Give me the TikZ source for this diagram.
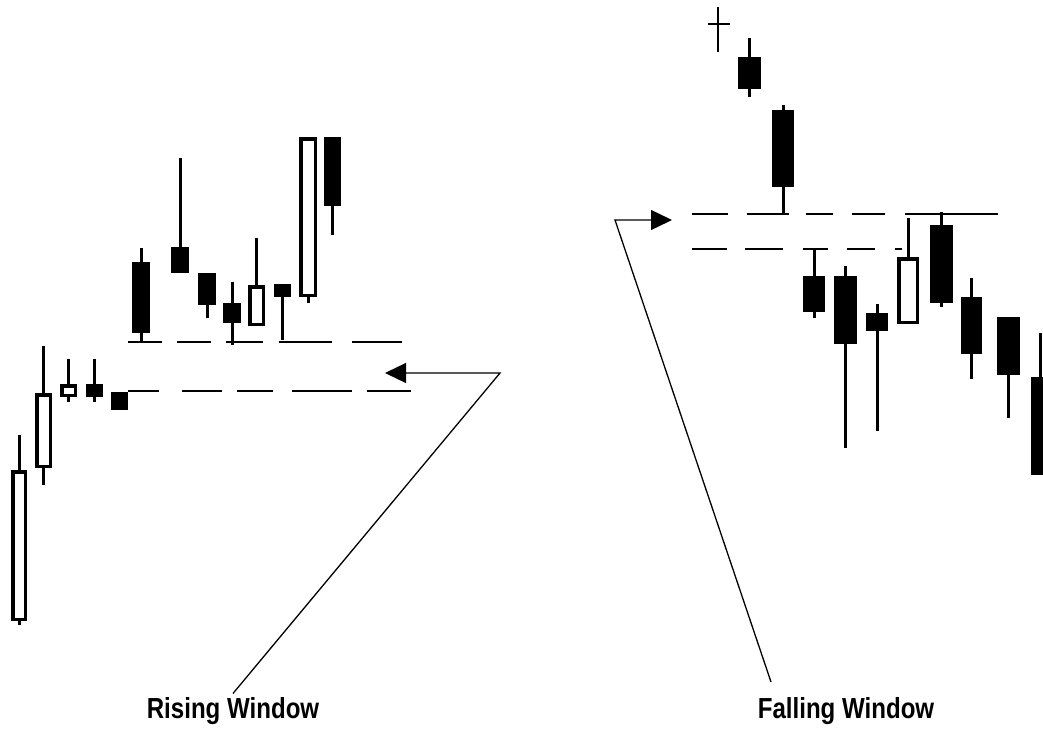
\documentclass[tikz,border=0pt]{standalone}
\usepackage{fontspec}
\setmainfont{Liberation Sans}
\newfontfamily\lblfont[FakeStretch=0.83]{Liberation Sans}
\usetikzlibrary{arrows.meta}

\begin{document}
\begin{tikzpicture}[
    x=1pt, y=-1pt,
    wick/.style={line width=3pt},
    bear/.style={fill=black},
    bull/.style={draw, line width=3.5pt, fill=white},
    window/.style={line width=2pt},
    arr/.style={-{Triangle[length=21pt, width=20pt]}, line width=1.3pt},
    lbl/.style={font=\lblfont\bfseries\fontsize{29}{29}\selectfont, anchor=base},
]
\useasboundingbox (0,0) rectangle (1043,728);
\clip (0,0) rectangle (1043,728);

% === Window lines ===
\foreach \xa/\xb in {128/162, 177/211, 226/263, 279/332, 352/402}
    \draw[window] (\xa,342) -- (\xb,342);
\foreach \xa/\xb in {128/159, 182/222, 237/273, 292/352, 367/411}
    \draw[window] (\xa,391) -- (\xb,391);
\foreach \xa/\xb in {692/728, 747/789, 806/833, 852/885, 905/998}
    \draw[window] (\xa,214) -- (\xb,214);
\foreach \xa/\xb in {692/727, 745/783, 803/828, 847/875, 895/902}
    \draw[window] (\xa,249) -- (\xb,249);

% === Rising window (left) ===
% white candles: body left/right, body top/bottom, high, low
\foreach \xa/\xb/\ya/\yb/\hi/\lo in {11/27/470/621/435/625, 35/52/393/468/346/485,
    60/77/384/397/359/402, 248/265/285/326/238/326, 299/317/137/297/137/303}{
    \draw[wick] ({(\xa+\xb)/2},\hi) -- ({(\xa+\xb)/2},\lo);
    \draw[bull] (\xa+1.75,\ya+1.75) rectangle (\xb-1.75,\yb-1.75);
}
% black candles
\foreach \xa/\xb/\ya/\yb/\hi/\lo in {86/103/384/397/359/402, 111/128/392/410/392/410,
    132/150/262/333/248/343, 171/189/247/273/158/273, 198/216/273/305/273/318,
    223/241/303/323/282/345, 274/291/284/297/284/340, 324/341/137/206/137/235}{
    \draw[wick] ({(\xa+\xb)/2},\hi) -- ({(\xa+\xb)/2},\lo);
    \fill[bear] (\xa,\ya) rectangle (\xb,\yb);
}

% === Falling window (right) ===
\draw[line width=2.5pt] (718,7) -- (718,52);
\draw[window] (708,24) -- (730,24);
\foreach \xa/\xb/\ya/\yb/\hi/\lo in {897/919/257/324/218/324}{
    \draw[wick] ({(\xa+\xb)/2},\hi) -- ({(\xa+\xb)/2},\lo);
    \draw[bull] (\xa+1.75,\ya+1.75) rectangle (\xb-1.75,\yb-1.75);
}
\foreach \xa/\xb/\ya/\yb/\hi/\lo in {738/761/57/89/38/97, 772/794/110/187/105/213,
    803/825/276/312/248/318, 834/857/276/344/266/448, 866/888/313/331/304/431,
    930/953/225/303/212/307, 961/982/297/354/278/379, 997/1020/317/375/317/418,
    1031/1050/377/475/333/475}{
    \draw[wick] ({(\xa+\xb)/2},\hi) -- ({(\xa+\xb)/2},\lo);
    \fill[bear] (\xa,\ya) rectangle (\xb,\yb);
}

% === Labels ===
\node[lbl] at (233,718) (rising) {Rising Window};
\node[lbl] at (846,718) (falling) {Falling Window};

\coordinate (rise-bend) at (500,373);
\coordinate (rise-tip) at (385,373);
\coordinate (fall-end) at (771,682);
\coordinate (fall-bend) at (615,220);
\coordinate (fall-tip) at (672,220);

\draw[arr] (rising.north) -- (rise-bend) -- (rise-tip);
\draw[arr] (fall-end) -- (fall-bend) -- (fall-tip);
\end{tikzpicture}
\end{document}
